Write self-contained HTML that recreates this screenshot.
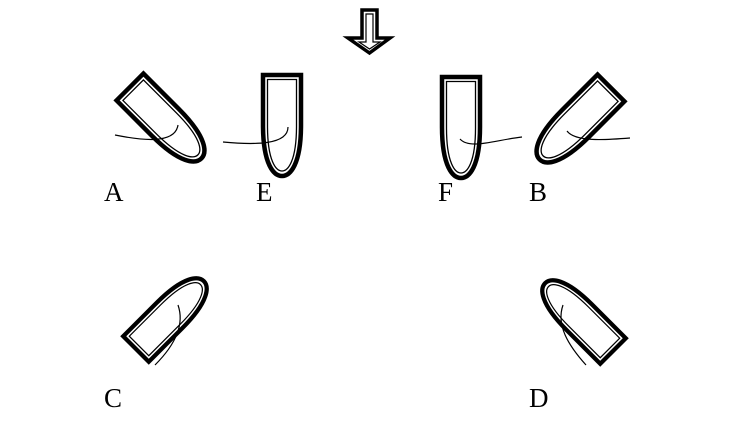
<!DOCTYPE html>
<html><head><meta charset="utf-8"><style>
html,body{margin:0;padding:0;background:#fff;width:734px;height:425px;overflow:hidden}
svg{display:block}
text{font-family:"Liberation Serif",serif;font-size:27px;fill:#000}
</style></head><body>
<svg width="734" height="425" viewBox="0 0 734 425">
<defs>
<g id="f">
<path d="M-19,0 H19 V50 C19,90 8,101 0,101 C-8,101 -19,90 -19,50 Z" fill="#fff" stroke="#000" stroke-width="4.5"/>
<path d="M-14.5,4.5 H14.5 V51 C14.5,86 6,96 0,96 C-6,96 -14.5,86 -14.5,51 Z" fill="none" stroke="#000" stroke-width="1.3"/>
</g>
</defs>
<!-- arrow -->
<path d="M362,10 H377 V38 H390 L369.5,53 L348,38 H362 Z" fill="#fff" stroke="#000" stroke-width="3.5"/>
<path d="M366,14 H373 V42 H380 L369.5,49 L359,42 H366 Z" fill="none" stroke="#000" stroke-width="1.2"/>
<!-- A -->
<use href="#f" transform="translate(130,87) rotate(-45)"/>
<path d="M115,135 C140,140 175,145 178,125" fill="none" stroke="#000" stroke-width="1.2"/>
<!-- E -->
<use href="#f" transform="translate(282,75)"/>
<path d="M223,142 C255,145 288,145 288,127" fill="none" stroke="#000" stroke-width="1.2"/>
<!-- F -->
<use href="#f" transform="translate(461,77)"/>
<path d="M460,139 C470,150 495,140 522,137" fill="none" stroke="#000" stroke-width="1.2"/>
<!-- B -->
<use href="#f" transform="translate(611,88) rotate(45)"/>
<path d="M567,131 C575,142 605,140 630,138" fill="none" stroke="#000" stroke-width="1.2"/>
<!-- C -->
<use href="#f" transform="translate(136,349) rotate(-135) scale(0.95)"/>
<path d="M178,305 C185,325 175,345 155,365" fill="none" stroke="#000" stroke-width="1.2"/>
<!-- D -->
<use href="#f" transform="translate(613,351) rotate(135) scale(0.95)"/>
<path d="M563,305 C556,325 568,345 586,365" fill="none" stroke="#000" stroke-width="1.2"/>
<text x="104" y="201">A</text>
<text x="256" y="201">E</text>
<text x="438" y="201">F</text>
<text x="529" y="201">B</text>
<text x="104" y="407">C</text>
<text x="529" y="407">D</text>
</svg>
</body></html>
